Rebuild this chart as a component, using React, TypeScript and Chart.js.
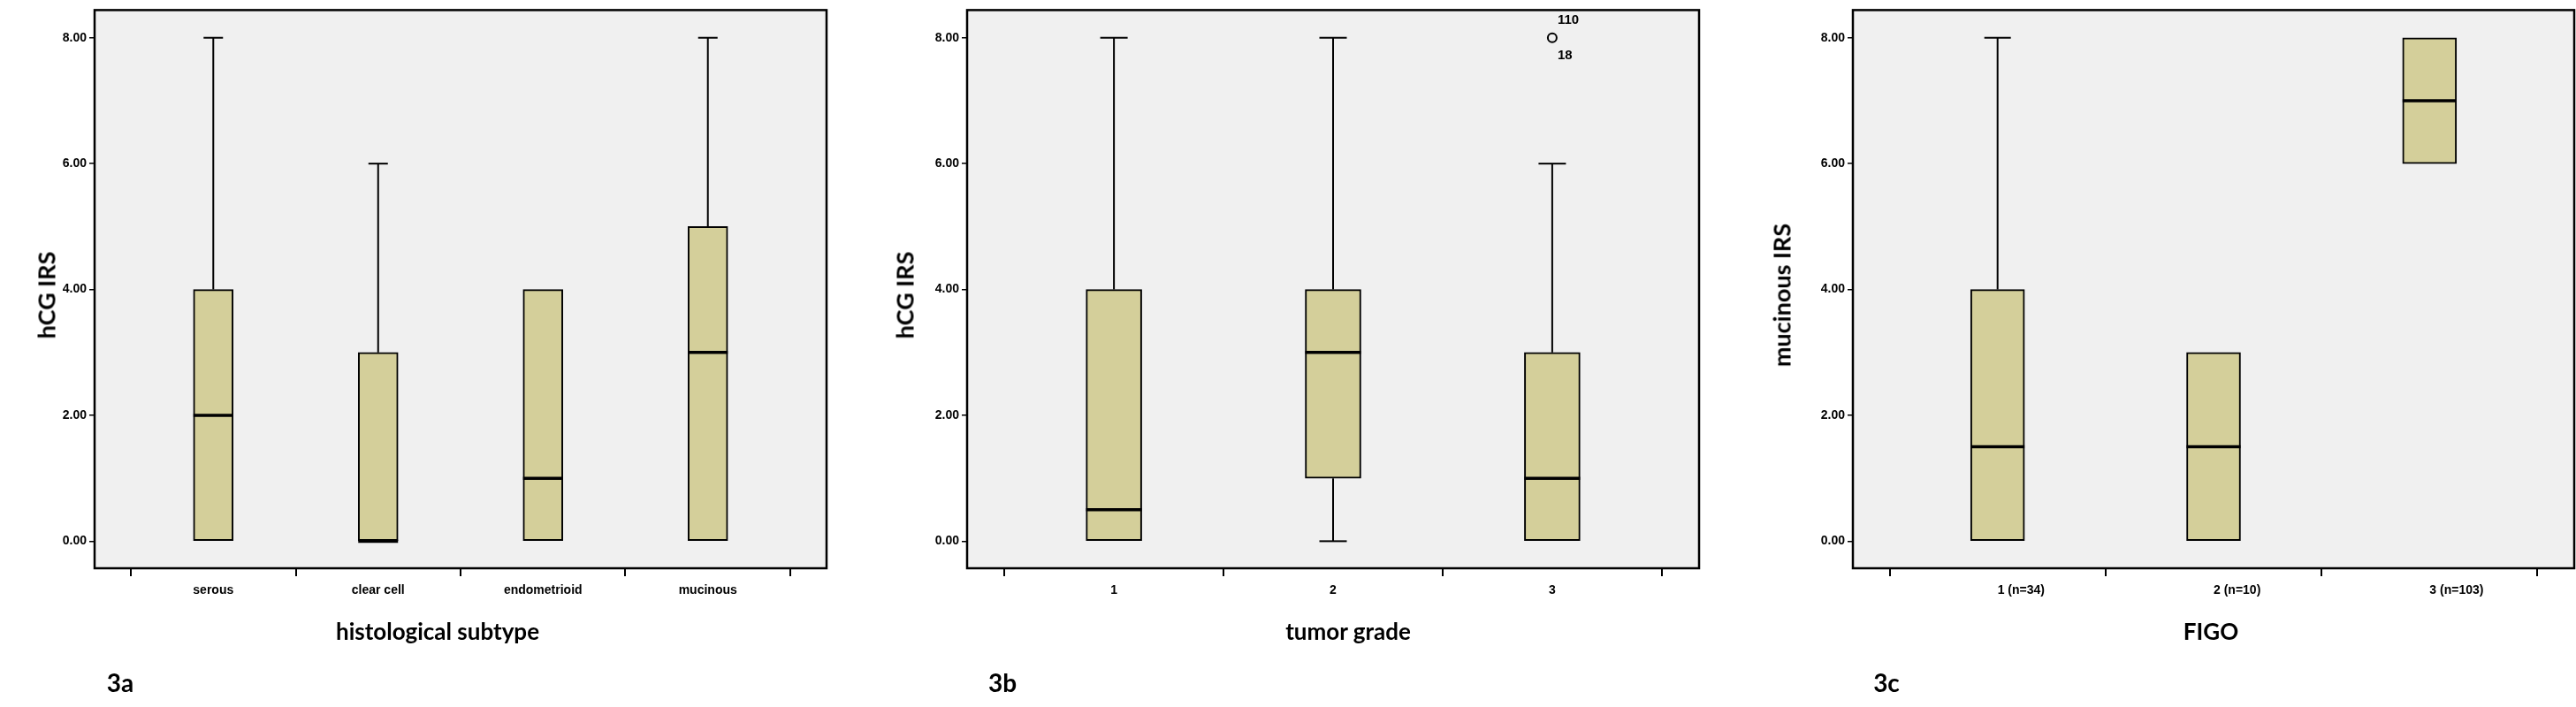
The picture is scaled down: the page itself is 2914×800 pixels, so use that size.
import React, { useEffect, useRef } from "react";
import { Chart, registerables } from "chart.js";
Chart.register(...registerables);

// Panel a
const catsA = ["serous", "clear cell", "endometrioid", "mucinous"];
const minA = [0, 0, 0, 0];
const q1A = [0, 0, 0, 0];
const medA = [2, 0, 1, 3];
const q3A = [4, 3, 4, 5];
const maxA = [8, 6, 4, 8];
// Panel b
const catsB = ["1", "2", "3"];
const minB = [0, 0, 0];
const q1B = [0, 1, 0];
const medB = [0.5, 3, 1];
const q3B = [4, 4, 3];
const maxB = [8, 8, 6];
const outliersB = [{ x: 3, y: 8, labels: ["110", "18"] }];
// Panel c
const catsC = ["1 (n=34)", "2 (n=10)", "3 (n=103)"];
const minC = [0, 0, 6];
const q1C = [0, 0, 6];
const medC = [1.5, 1.5, 7];
const q3C = [4, 3, 8];
const maxC = [8, 3, 8];
const yTicks = [0, 2, 4, 6, 8];

type P = {
  left: number; width: number; yW: number; rPad: number; cats: string[];
  mn: number[]; q1: number[]; md: number[]; q3: number[]; mx: number[];
  boxW: number; capW: number; xMin: number; xMax: number; alignStart?: boolean;
  outliers?: { x: number; y: number; labels: string[] }[];
  yTitle: string; yTitleX: number; xTitle: string; xTitleX: number; tag: string; tagX: number;
};

const titleFont = "Lato, 'Open Sans', sans-serif";

function Panel(p: P) {
  const ref = useRef<HTMLCanvasElement>(null);
  useEffect(() => {
    const boxPlugin = {
      id: "box",
      beforeDraw(c: any) {
        const a = c.chartArea;
        c.ctx.save();
        c.ctx.fillStyle = "#f0f0f0";
        c.ctx.fillRect(a.left, a.top, a.right - a.left, a.bottom - a.top);
        c.ctx.restore();
      },
      afterDatasetsDraw(c: any) {
        const ctx = c.ctx, xs = c.scales.x, ys = c.scales.y, a = c.chartArea;
        ctx.save();
        ctx.strokeStyle = "#000";
        p.cats.forEach((_, i) => {
          const x = xs.getPixelForValue(i + 1);
          ctx.lineWidth = 2;
          const seg = (x1: number, y1: number, x2: number, y2: number) => {
            ctx.beginPath(); ctx.moveTo(x1, y1); ctx.lineTo(x2, y2); ctx.stroke();
          };
          if (p.mx[i] > p.q3[i]) {
            seg(x, ys.getPixelForValue(p.q3[i]), x, ys.getPixelForValue(p.mx[i]));
            seg(x - p.capW / 2, ys.getPixelForValue(p.mx[i]), x + p.capW / 2, ys.getPixelForValue(p.mx[i]));
          }
          if (p.mn[i] < p.q1[i]) {
            seg(x, ys.getPixelForValue(p.q1[i]), x, ys.getPixelForValue(p.mn[i]));
            seg(x - p.capW / 2, ys.getPixelForValue(p.mn[i]), x + p.capW / 2, ys.getPixelForValue(p.mn[i]));
          }
          ctx.lineWidth = 3.5;
          seg(x - p.boxW / 2, ys.getPixelForValue(p.md[i]), x + p.boxW / 2, ys.getPixelForValue(p.md[i]));
        });
        (p.outliers || []).forEach((o) => {
          const x = xs.getPixelForValue(o.x), y = ys.getPixelForValue(o.y);
          ctx.fillStyle = "#000";
          ctx.font = "bold 15px 'Liberation Sans', sans-serif";
          ctx.textAlign = "left";
          ctx.textBaseline = "middle";
          ctx.fillText(o.labels[0], x + 6, y - 20);
          ctx.fillText(o.labels[1], x + 6, y + 20);
        });
        ctx.lineWidth = 2.5;
        ctx.strokeRect(a.left, a.top, a.right - a.left, a.bottom - a.top);
        ctx.restore();
      },
    };
    const datasets: any[] = [
      {
        type: "bar",
        data: p.cats.map((_, i) => ({ x: i + 1, y: [p.q1[i], p.q3[i]] })),
        backgroundColor: "#d4cf9a",
        borderColor: "#000",
        borderWidth: 2,
        borderSkipped: false,
        barThickness: p.boxW,
      },
    ];
    if (p.outliers) {
      datasets.push({
        type: "scatter",
        data: p.outliers.map((o) => ({ x: o.x, y: o.y })),
        pointRadius: 5,
        pointBorderWidth: 2,
        pointBorderColor: "#000",
        pointBackgroundColor: "#f0f0f0",
      });
    }
    const chart = new Chart(ref.current!, {
      type: "bar",
      data: { datasets },
      plugins: [boxPlugin],
      options: {
        animation: false,
        responsive: false,
        devicePixelRatio: 1,
        layout: { padding: { top: 2, right: p.rPad, bottom: 0, left: 0 } },
        plugins: { legend: { display: false }, tooltip: { enabled: false } },
        scales: {
          x: {
            type: "linear",
            min: p.xMin,
            max: p.xMax,
            offset: false,
            afterFit: (s: any) => { s.height = 157; },
            afterBuildTicks: (s: any) => { s.ticks = p.cats.map((_, i) => ({ value: i + 1 })); },
            grid: { display: true, drawOnChartArea: false, drawTicks: true, tickLength: 9, color: "#000", lineWidth: 2 },
            border: { display: false },
            ticks: {
              color: "#000",
              padding: 8,
              maxRotation: 0,
              autoSkip: false,
              align: p.alignStart ? "start" : "center",
              font: { family: "'Liberation Sans', sans-serif", size: 14, weight: "bold" },
              callback: (v: any) => p.cats[Math.round(v) - 1] ?? "",
            },
          },
          y: {
            min: -0.43,
            max: 8.44,
            afterFit: (s: any) => { s.width = p.yW; },
            afterBuildTicks: (s: any) => { s.ticks = yTicks.map((v) => ({ value: v })); },
            grid: { display: true, drawOnChartArea: false, drawTicks: true, tickLength: 6, color: "#000", lineWidth: 1.5 },
            border: { display: false },
            ticks: {
              color: "#000",
              padding: 3,
              font: { family: "'Liberation Sans', sans-serif", size: 14, weight: "bold" },
              callback: (v: any) => Number(v).toFixed(2),
            },
          },
        },
      } as any,
    });
    return () => chart.destroy();
  }, []);
  return (
    <>
      <canvas ref={ref} width={p.width} height={800} style={{ position: "absolute", left: p.left, top: 0, width: p.width, height: 800 }} />
      <div style={{ position: "absolute", left: p.yTitleX, top: 334, transform: "translate(-50%,-50%) rotate(-90deg)", font: `bold 27px ${titleFont}`, whiteSpace: "nowrap", color: "#000" }}>{p.yTitle}</div>
      <div style={{ position: "absolute", left: p.xTitleX, top: 714, transform: "translate(-50%,-50%)", font: `bold 26px ${titleFont}`, whiteSpace: "nowrap", color: "#000" }}>{p.xTitle}</div>
      <div style={{ position: "absolute", left: p.tagX, top: 772, transform: "translate(-50%,-50%)", font: `bold 28px ${titleFont}`, whiteSpace: "nowrap", color: "#000" }}>{p.tag}</div>
    </>
  );
}

export default function App() {
  return (
    <div style={{ position: "absolute", left: 0, top: 0, width: 2914, height: 800, background: "#fff", overflow: "hidden" }}>
      <Panel left={0} width={950} yW={107} rPad={15} cats={catsA} mn={minA} q1={q1A} md={medA} q3={q3A} mx={maxA}
        boxW={45} capW={22} xMin={0.28} xMax={4.72}
        yTitle="hCG IRS" yTitleX={52} xTitle="histological subtype" xTitleX={495} tag="3a" tagX={136} />
      <Panel left={960} width={975} yW={134} rPad={13} cats={catsB} mn={minB} q1={q1B} md={medB} q3={q3B} mx={maxB}
        boxW={63} capW={31} xMin={0.33} xMax={3.67} outliers={outliersB}
        yTitle="hCG IRS" yTitleX={1023} xTitle="tumor grade" xTitleX={1525} tag="3b" tagX={1134} />
      <Panel left={1950} width={964} yW={146} rPad={2} cats={catsC} mn={minC} q1={q1C} md={medC} q3={q3C} mx={maxC}
        boxW={61} capW={30} xMin={0.33} xMax={3.67} alignStart
        yTitle="mucinous IRS" yTitleX={2015} xTitle="FIGO" xTitleX={2501} tag="3c" tagX={2134} />
    </div>
  );
}
